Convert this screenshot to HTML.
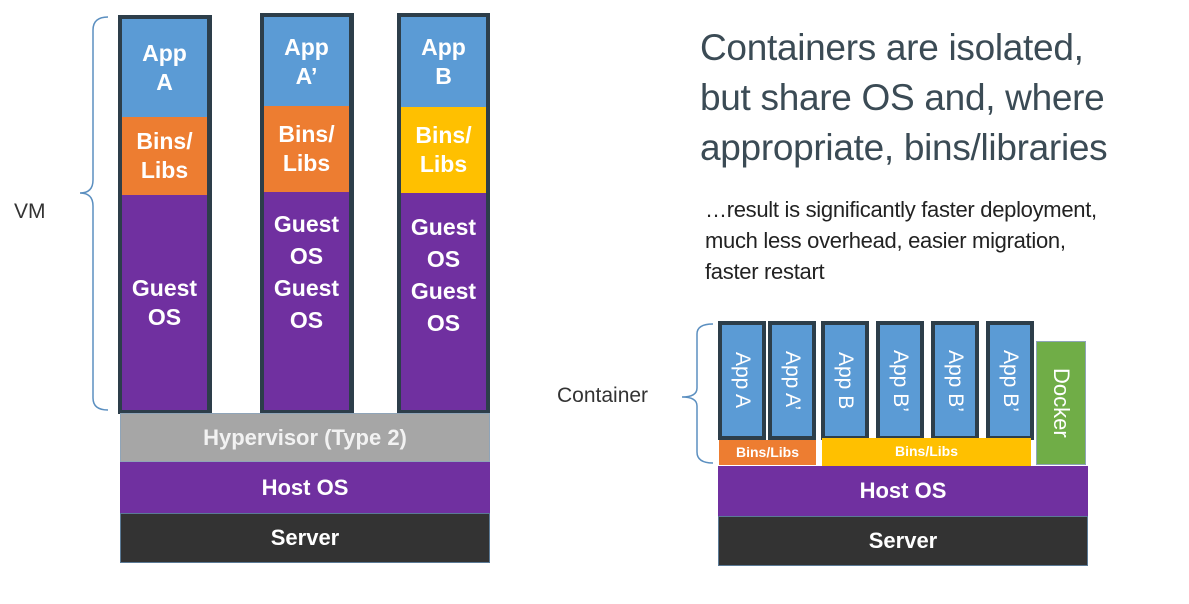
<!DOCTYPE html>
<html><head><meta charset="utf-8"><style>
body{margin:0;width:1189px;height:604px;background:#fff;position:relative;overflow:hidden;font-family:"Liberation Sans",sans-serif}
.b{position:absolute;box-sizing:border-box}
.t{position:absolute;color:#fff;font-weight:bold;text-align:center;display:flex;align-items:center;justify-content:center;line-height:1.25}
.col{position:absolute;background:#2d3e4a;box-sizing:border-box}
.v{position:absolute;color:#fff;font-size:21px;writing-mode:vertical-rl;display:flex;align-items:center;justify-content:center;box-sizing:border-box}
</style></head><body>
<div class="col" style="left:118px;top:15px;width:94px;height:399px"></div>
<div class="t" style="left:122px;top:19px;width:85px;height:98px;background:#5b9bd5;font-size:23px">App<br>A</div>
<div class="t" style="left:122px;top:117px;width:85px;height:78px;background:#ed7d31;font-size:23px">Bins/<br>Libs</div>
<div class="t" style="left:122px;top:195px;width:85px;height:215px;background:#7030a0;font-size:23px">Guest<br>OS</div>

<div class="col" style="left:260px;top:13px;width:94px;height:401px"></div>
<div class="t" style="left:264px;top:17px;width:85px;height:89px;background:#5b9bd5;font-size:23px">App<br>A’</div>
<div class="t" style="left:264px;top:106px;width:85px;height:86px;background:#ed7d31;font-size:23px">Bins/<br>Libs</div>
<div class="t" style="left:264px;top:192px;width:85px;height:218px;background:#7030a0;font-size:23px;align-items:flex-start;padding-top:16px;box-sizing:border-box;line-height:32px">Guest<br>OS<br>Guest<br>OS</div>

<div class="col" style="left:397px;top:13px;width:93px;height:401px"></div>
<div class="t" style="left:401px;top:17px;width:85px;height:90px;background:#5b9bd5;font-size:23px">App<br>B</div>
<div class="t" style="left:401px;top:107px;width:85px;height:86px;background:#ffc000;font-size:23px">Bins/<br>Libs</div>
<div class="t" style="left:401px;top:193px;width:85px;height:217px;background:#7030a0;font-size:23px;align-items:flex-start;padding-top:18px;box-sizing:border-box;line-height:32px">Guest<br>OS<br>Guest<br>OS</div>

<div class="t" style="left:120px;top:413px;width:370px;height:49px;background:#a6a6a6;font-size:22px;color:#f2f2f2;border:1px solid #8fa4b8;box-sizing:border-box">Hypervisor (Type 2)</div>
<div class="t" style="left:120px;top:462px;width:370px;height:51px;background:#7030a0;font-size:22px">Host OS</div>
<div class="t" style="left:120px;top:513px;width:370px;height:50px;background:#333;font-size:22px;border:1px solid #5b7a96;box-sizing:border-box">Server</div>

<svg class="b" style="left:0;top:0" width="1189" height="604">
<path d="M108 17 Q93 17 93 30 L93 180 Q93 193 80 193 Q93 193 93 206 L93 398 Q93 410 108 410" fill="none" stroke="#5b8fc0" stroke-width="1.5"/>
<path d="M713 324 Q697 324 697 334 L697 388 Q697 397 682 397 Q697 397 697 406 L697 452 Q697 463 713 463" fill="none" stroke="#5b8fc0" stroke-width="1.5"/>
</svg>
<div style="position:absolute;left:14px;top:200px;font-size:21px;color:#333">VM</div>
<div style="position:absolute;left:557px;top:384px;font-size:21px;color:#333">Container</div>

<div style="position:absolute;left:700px;top:23px;font-size:37px;line-height:50px;color:#3b4b55;letter-spacing:-0.3px">Containers are isolated,<br>but share OS and, where<br>appropriate, bins/libraries</div>
<div style="position:absolute;left:705px;top:194px;font-size:22px;line-height:31px;color:#222;letter-spacing:-0.3px">…result is significantly faster deployment,<br>much less overhead, easier migration,<br>faster restart</div>

<div class="col" style="left:718px;top:321px;width:48px;height:119px"></div>
<div class="v" style="left:722px;top:325px;width:40px;height:111px;background:#5b9bd5">App A</div>
<div class="col" style="left:768px;top:321px;width:48px;height:119px"></div>
<div class="v" style="left:772px;top:325px;width:40px;height:111px;background:#5b9bd5">App A’</div>
<div class="col" style="left:821px;top:321px;width:48px;height:119px"></div>
<div class="v" style="left:825px;top:325px;width:40px;height:111px;background:#5b9bd5">App B</div>
<div class="col" style="left:876px;top:321px;width:48px;height:119px"></div>
<div class="v" style="left:880px;top:325px;width:40px;height:111px;background:#5b9bd5">App B’</div>
<div class="col" style="left:931px;top:321px;width:48px;height:119px"></div>
<div class="v" style="left:935px;top:325px;width:40px;height:111px;background:#5b9bd5">App B’</div>
<div class="col" style="left:986px;top:321px;width:48px;height:119px"></div>
<div class="v" style="left:990px;top:325px;width:40px;height:111px;background:#5b9bd5">App B’</div>
<div class="v" style="left:1036px;top:341px;width:50px;height:124px;background:#70ad47;font-size:22px;border:1px solid #8fa4b8">Docker</div>

<div class="t" style="left:719px;top:440px;width:97px;height:25px;background:#ed7d31;font-size:14px">Bins/Libs</div>
<div class="t" style="left:822px;top:438px;width:209px;height:28px;background:#ffc000;font-size:14px">Bins/Libs</div>
<div class="t" style="left:718px;top:466px;width:370px;height:50px;background:#7030a0;font-size:22px">Host OS</div>
<div class="t" style="left:718px;top:516px;width:370px;height:50px;background:#333;font-size:22px;border:1px solid #5b7a96;box-sizing:border-box">Server</div>
</body></html>
